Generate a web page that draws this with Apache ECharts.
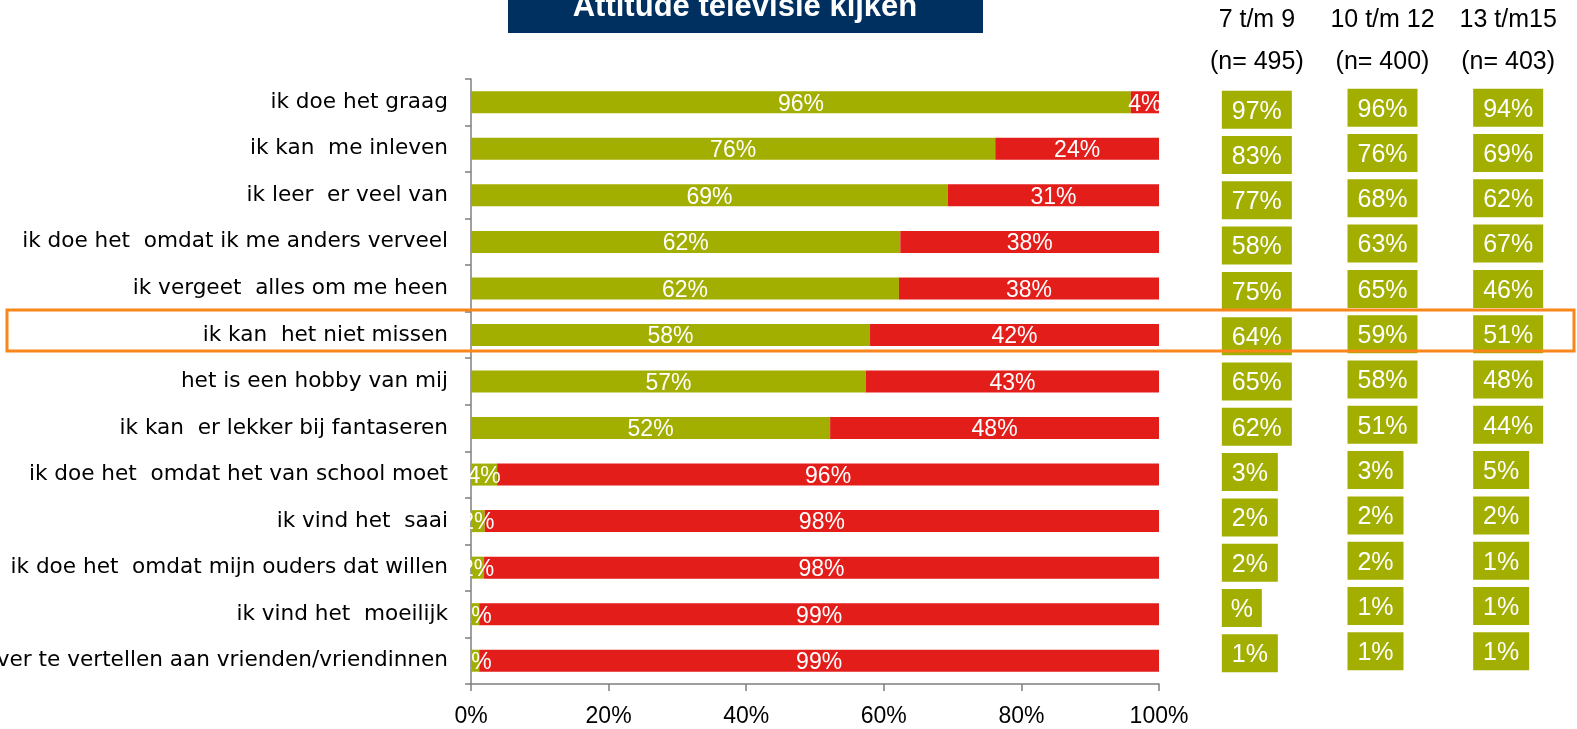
<!DOCTYPE html>
<html>
<head>
<meta charset="utf-8">
<title>Attitude televisie kijken</title>
<script src="https://cdn.jsdelivr.net/npm/echarts@6/dist/echarts.min.js"></script>
<style>
  html, body { margin: 0; padding: 0; background: #fff; }
  #chart { width: 1577px; height: 729px; }
</style>
</head>
<body>
<div id="chart"></div>
<script>
// uitspraken (van boven naar beneden)
const statements = [
  'ik doe het graag',
  'ik kan  me inleven',
  'ik leer  er veel van',
  'ik doe het  omdat ik me anders verveel',
  'ik vergeet  alles om me heen',
  'ik kan  het niet missen',
  'het is een hobby van mij',
  'ik kan  er lekker bij fantaseren',
  'ik doe het  omdat het van school moet',
  'ik vind het  saai',
  'ik doe het  omdat mijn ouders dat willen',
  'ik vind het  moeilijk',
  'ik doe het  om erover te vertellen aan vrienden/vriendinnen'
]
// eens / oneens (totaal)
const agree = [95.9, 76.2, 69.3, 62.4, 62.2, 58.0, 57.4, 52.2, 3.8, 2.0, 1.9, 1.2, 1.2]
const disagree = [4.1, 23.8, 30.7, 37.6, 37.8, 42.0, 42.6, 47.8, 96.2, 98.0, 98.1, 98.8, 98.8]

// leeftijdsgroepen
const ageGroups = ['7 t/m 9', '10 t/m 12', '13 t/m15']
const groupN = ['(n= 495)', '(n= 400)', '(n= 403)']
const age7to9 = [97, 83, 77, 58, 75, 64, 65, 62, 3, 2, 2, null, 1]
const age10to12 = [96, 76, 68, 63, 65, 59, 58, 51, 3, 2, 2, 1, 1]
const age13to15 = [94, 69, 62, 67, 46, 51, 48, 44, 5, 2, 1, 1, 1]

const GREEN = '#A2AF00'
const RED = '#E31D1A'
const FONT = 'Liberation Sans, Arial, sans-serif'

let mychart = echarts.init(document.getElementById('chart'))

let groupCols = [age7to9, age10to12, age13to15]
let boxData = []
groupCols.forEach(function (col, c) {
  col.forEach(function (v, r) {
    let txt = (v == null ? '' : v) + '%'
    let w = v == null ? 40 : (String(v).length > 1 ? 70 : 56)
    boxData.push({
      value: [c, r],
      symbolSize: [w, 38],
      symbolOffset: [w / 2 - 35, c == 0 ? 1 : -1],
      label: { formatter: txt }
    })
  })
})

let pctLabel = {
  show: true,
  position: 'inside',
  color: '#fff',
  fontFamily: FONT,
  fontSize: 23,
  offset: [0, 2],
  formatter: function (p) { return Math.round(p.value) + '%' }
}

let option = {
  backgroundColor: '#fff',
  animation: false,
  textStyle: { fontFamily: FONT },
  grid: [
    { left: 471, right: 418, top: 79, height: 605, outerBoundsMode: 'none', containLabel: false },
    { left: 1194, width: 377, top: 86, height: 589, outerBoundsMode: 'none', containLabel: false }
  ],
  xAxis: [
    {
      gridIndex: 0,
      type: 'value',
      min: 0,
      max: 100,
      interval: 20,
      splitLine: { show: false },
      axisLine: { show: true, lineStyle: { color: '#7f7f7f', width: 1.5 } },
      axisTick: { show: true, length: 7, lineStyle: { color: '#7f7f7f', width: 1.5 } },
      axisLabel: {
        color: '#000',
        fontSize: 23,
        margin: 21,
        formatter: '{value}%'
      }
    },
    {
      gridIndex: 1,
      type: 'category',
      position: 'top',
      data: ageGroups.map(function (g, i) { return g + '\n' + groupN[i] }),
      axisLine: { show: false },
      axisTick: { show: false },
      axisLabel: {
        color: '#000',
        fontSize: 25,
        lineHeight: 42,
        margin: 3,
        interval: 0
      }
    }
  ],
  yAxis: [
    {
      gridIndex: 0,
      type: 'category',
      inverse: true,
      data: statements,
      axisLine: { show: true, lineStyle: { color: '#7f7f7f', width: 1.5 } },
      axisTick: { show: true, length: 6, lineStyle: { color: '#7f7f7f', width: 1.5 } },
      axisLabel: {
        color: '#000',
        fontFamily: 'DejaVu Sans',
        fontSize: 21.6,
        margin: 23
      }
    },
    {
      gridIndex: 1,
      type: 'category',
      inverse: true,
      data: statements,
      show: false
    }
  ],
  series: [
    {
      name: 'eens',
      type: 'bar',
      stack: 'totaal',
      xAxisIndex: 0,
      yAxisIndex: 0,
      barWidth: 22,
      data: agree,
      itemStyle: { color: GREEN },
      label: pctLabel
    },
    {
      name: 'oneens',
      type: 'bar',
      stack: 'totaal',
      xAxisIndex: 0,
      yAxisIndex: 0,
      barWidth: 22,
      data: disagree,
      itemStyle: { color: RED },
      label: pctLabel
    },
    {
      name: 'leeftijd',
      type: 'scatter',
      xAxisIndex: 1,
      yAxisIndex: 1,
      symbol: 'rect',
      itemStyle: { color: GREEN, opacity: 1 },
      label: {
        show: true,
        position: 'inside',
        color: '#fff',
        fontFamily: FONT,
        fontSize: 25,
        offset: [0, 2]
      },
      data: boxData
    }
  ],
  graphic: [
    {
      type: 'rect',
      x: 508,
      y: 0,
      shape: { x: 0, y: 0, width: 475, height: 33 },
      style: { fill: '#00305F' }
    },
    {
      type: 'text',
      x: 745,
      y: 7,
      style: {
        text: 'Attitude televisie kijken',
        fill: '#fff',
        font: 'bold 31px ' + FONT,
        align: 'center',
        verticalAlign: 'middle'
      }
    },
    {
      type: 'rect',
      x: 7,
      y: 310,
      z: 100,
      shape: { x: 0, y: 0, width: 1567, height: 41 },
      style: { fill: 'none', stroke: '#F8861A', lineWidth: 3 }
    }
  ]
}
mychart.setOption(option)
</script>
</body>
</html>
